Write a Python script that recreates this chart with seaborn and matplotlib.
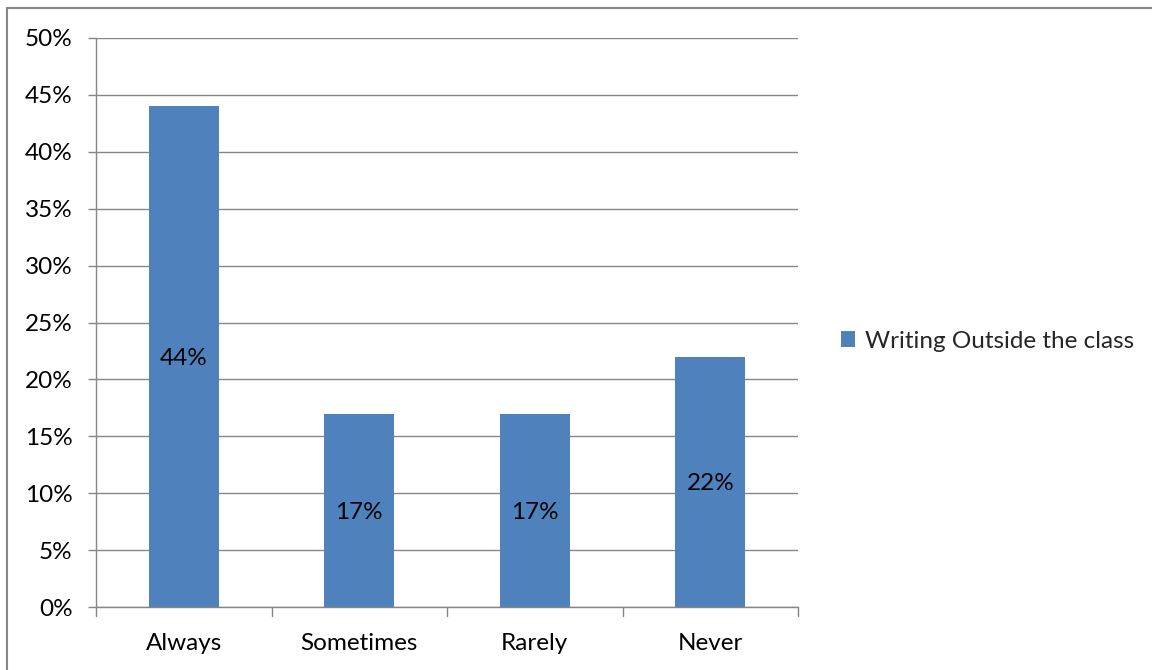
import matplotlib
matplotlib.use("Agg")
import matplotlib.pyplot as plt
import seaborn as sns
import pandas as pd
from matplotlib.lines import Line2D
from matplotlib.patches import Patch

categories = ["Always", "Sometimes", "Rarely", "Never"]
values = [44, 17, 17, 22]
series_name = "Writing Outside the class"
yticks = [0, 5, 10, 15, 20, 25, 30, 35, 40, 45, 50]

sns.set_theme(style="white")
plt.rcParams['font.family'] = ['Lato', 'DejaVu Sans']

FS = 17.5
W, H = 1152, 670
fig = plt.figure(figsize=(W / 100, H / 100), dpi=100)
ax = fig.add_axes([96 / W, (H - 607) / H, (798 - 96) / W, (607 - 38) / H])

df = pd.DataFrame({"cat": categories, "val": values})
color = "#4F81BD"
sns.barplot(data=df, x="cat", y="val", color=color, width=0.4, ax=ax,
            saturation=1, edgecolor="none")

ax.set_xlim(-0.5, len(categories) - 0.5)
ax.set_ylim(0, 50)
ax.set_yticks(yticks)
ax.set_yticklabels([f"{t}%" for t in yticks], fontsize=FS, color="black")
ax.yaxis.grid(True, color="#868686", linewidth=1)
ax.set_axisbelow(True)
ax.set_xlabel("")
ax.set_ylabel("")

ax.set_xticks(range(len(categories)))
ax.set_xticklabels(categories, fontsize=FS, color="black")
ax.tick_params(axis="x", length=0, pad=19)
ax.tick_params(axis="y", length=6, width=1, color="#868686", pad=11, direction="out", left=True)
for b in [i - 0.5 for i in range(len(categories) + 1)]:
    ax.plot([b, b], [0, -0.015], transform=ax.get_xaxis_transform(),
            color="#868686", lw=1, clip_on=False)

for s in ["top", "right"]:
    ax.spines[s].set_visible(False)
for s in ["left", "bottom"]:
    ax.spines[s].set_visible(True)
    ax.spines[s].set_color("#868686")
    ax.spines[s].set_linewidth(1)

for i, v in enumerate(values):
    ax.text(i, v / 2, f"{v}%", ha="center", va="center_baseline", fontsize=FS, color="black")

handle = Patch(facecolor=color, edgecolor="none")
fig.legend([handle], [series_name], loc="center left",
           bbox_to_anchor=(819 / W, (H - 341) / H), frameon=False,
           fontsize=FS, handlelength=0.6, handleheight=0.6, handletextpad=0.4)

fig.add_artist(Line2D([7 / W, 7 / W], [0, 1 - 8 / H], color="#868686", lw=1.5))
fig.add_artist(Line2D([7 / W, 1], [1 - 8 / H, 1 - 8 / H], color="#868686", lw=1.5))

fig.savefig("out.png", dpi=100)
